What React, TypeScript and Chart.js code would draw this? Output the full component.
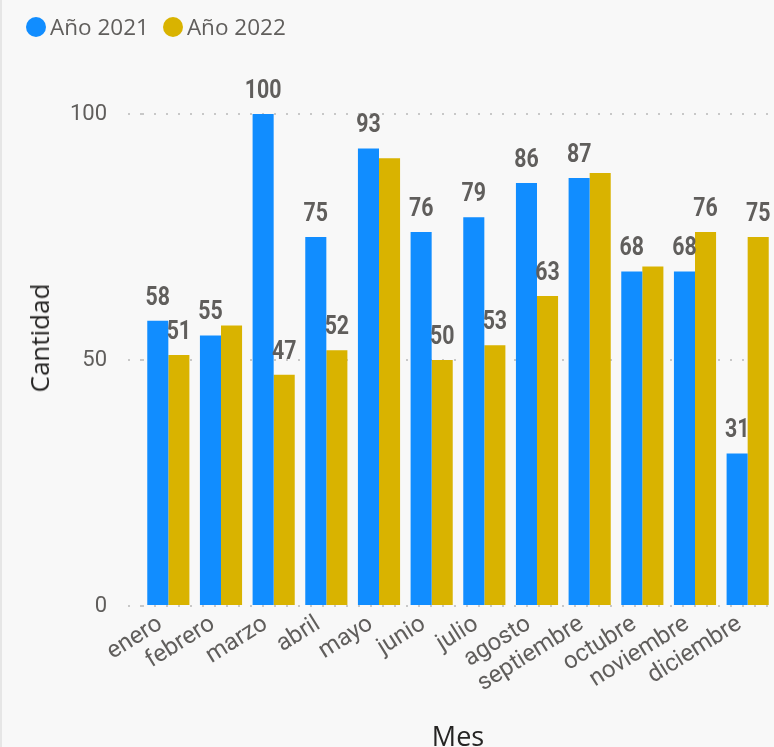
import React, { useEffect, useRef } from 'react';
import { Chart, registerables } from 'chart.js';

Chart.register(...registerables);

const months = ['enero', 'febrero', 'marzo', 'abril', 'mayo', 'junio', 'julio', 'agosto', 'septiembre', 'octubre', 'noviembre', 'diciembre'];
const year2021 = [58, 55, 100, 75, 93, 76, 79, 86, 87, 68, 68, 31];
const year2022 = [51, 57, 47, 52, 91, 50, 53, 63, 88, 69, 76, 75];
const seriesNames = ['Año 2021', 'Año 2022'];
const seriesColors = ['#118DFF', '#D9B300'];
const yTickValues = [0, 50, 100];
const xTitle = 'Mes';
const yTitle = 'Cantidad';

const W = 774;
const H = 760;
const PAD_BOTTOM = 5;
const LABEL_COLOR = '#605E5C';
const LABEL_SQUEEZE = 0.82;

const barLabels = {
  id: 'barLabels',
  afterDatasetsDraw(chart: any) {
    const ctx = chart.ctx;
    ctx.save();
    ctx.font = 'bold 26px Roboto';
    ctx.fillStyle = LABEL_COLOR;
    ctx.textAlign = 'center';
    ctx.textBaseline = 'alphabetic';
    const placed: any[] = [];
    chart.data.datasets.forEach((ds: any, di: number) => {
      const meta = chart.getDatasetMeta(di);
      meta.data.forEach((bar: any, i: number) => {
        const text = String(ds.data[i]);
        const w = ctx.measureText(text).width * LABEL_SQUEEZE;
        const x = bar.x;
        const y = bar.y - 16;
        const box = { l: x - w / 2 - 2, r: x + w / 2 + 2, t: y - 19, b: y };
        if (placed.some((p) => p.l < box.r && box.l < p.r && p.t < box.b && box.t < p.b)) return;
        placed.push(box);
        ctx.save();
        ctx.translate(x, y);
        ctx.scale(LABEL_SQUEEZE, 1);
        ctx.fillText(text, 0, 0);
        ctx.restore();
      });
    });
    ctx.restore();
  },
};

export default function App() {
  const ref = useRef<HTMLCanvasElement>(null);
  useEffect(() => {
    document.body.style.margin = '0';
    const chart = new Chart(ref.current!, {
      type: 'bar',
      data: {
        labels: months,
        datasets: [
          { label: seriesNames[0], data: year2021, backgroundColor: seriesColors[0], categoryPercentage: 0.8, barPercentage: 1.0 },
          { label: seriesNames[1], data: year2022, backgroundColor: seriesColors[1], categoryPercentage: 0.8, barPercentage: 1.0 },
        ],
      },
      plugins: [barLabels],
      options: {
        animation: false,
        responsive: false,
        maintainAspectRatio: false,
        layout: { padding: { top: 114, right: 0, left: 0, bottom: PAD_BOTTOM } },
        plugins: { legend: { display: false }, tooltip: { enabled: false } },
        scales: {
          x: {
            grid: { display: false },
            border: { display: false },
            ticks: {
              color: LABEL_COLOR,
              font: { family: 'Roboto', size: 24 },
              minRotation: 32,
              maxRotation: 32,
              autoSkip: false,
              padding: -4,
              labelOffset: -8,
            },
            title: {
              display: true,
              text: xTitle,
              color: '#252423',
              font: { family: 'Open Sans', size: 27 },
              padding: { top: 0, bottom: 0 },
            },
            afterFit: (s: any) => {
              s.height = H - PAD_BOTTOM - 606;
            },
          },
          y: {
            min: 0,
            max: 100,
            afterBuildTicks: (s: any) => {
              s.ticks = yTickValues.map((v) => ({ value: v }));
            },
            ticks: { color: LABEL_COLOR, font: { family: 'Roboto', size: 22 }, padding: 21 },
            grid: { color: '#C8C8C8', lineWidth: 2, tickLength: 14, tickBorderDash: [2, 10], drawTicks: true },
            border: { display: false, dash: [2, 10] },
            title: { display: false },
            afterFit: (s: any) => {
              s.width = 142;
            },
          },
        },
      },
    } as any);
    return () => chart.destroy();
  }, []);

  const legendItem = (i: number) => (
    <div key={i} style={{ display: 'flex', alignItems: 'center', marginRight: 14 }}>
      <span style={{ width: 20, height: 20, borderRadius: '50%', background: seriesColors[i], display: 'inline-block', marginRight: 4 }} />
      <span style={{ fontFamily: 'Open Sans', fontSize: 22.5, color: '#605E5C', lineHeight: '30px' }}>{seriesNames[i]}</span>
    </div>
  );

  return (
    <div style={{ position: 'relative', width: W, height: 747, overflow: 'hidden', background: '#F8F8F8' }}>
      <canvas ref={ref} width={W} height={H} style={{ position: 'absolute', left: 0, top: 0, width: W, height: H }} />
      <div style={{ position: 'absolute', left: 26, top: 12, height: 30, display: 'flex', alignItems: 'center' }}>
        {legendItem(0)}
        {legendItem(1)}
      </div>
      <div
        style={{
          position: 'absolute',
          left: 39,
          top: 338,
          transform: 'translate(-50%, -50%) rotate(-90deg)',
          fontFamily: 'Open Sans',
          fontSize: 26,
          color: '#252423',
          whiteSpace: 'nowrap',
          lineHeight: '30px',
        }}
      >
        {yTitle}
      </div>
      <div style={{ position: 'absolute', left: 0, top: 0, width: 2, height: 747, background: '#E6E6E6' }} />
    </div>
  );
}
